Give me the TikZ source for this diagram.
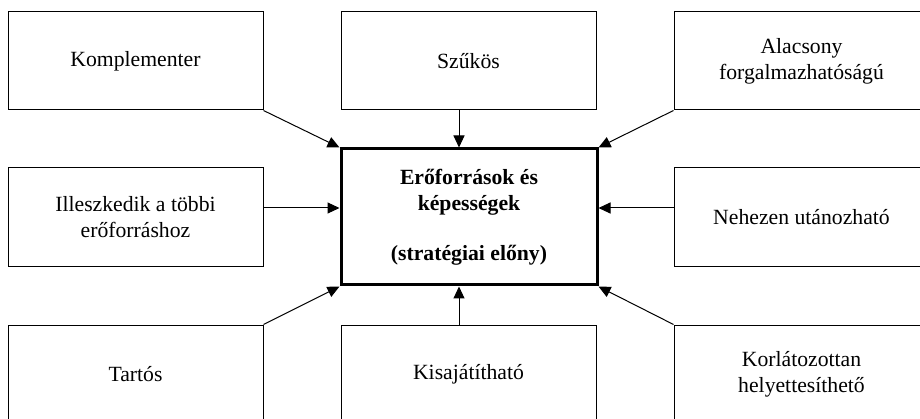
\documentclass[tikz,border=0pt]{standalone}
\usepackage{fontspec}
\setmainfont{Liberation Serif}
\usetikzlibrary{arrows.meta}
\begin{document}
\begin{tikzpicture}[x=1pt,y=-1pt,
  box/.style={draw=black,line width=1pt,minimum width=255pt,minimum height=98pt,
    align=center,inner sep=2pt,font=\fontsize{21.7}{26}\selectfont},
  mainbox/.style={draw=black,line width=3pt,minimum width=256pt,minimum height=136pt,
    align=center,font=\fontsize{21.7}{26}\selectfont\bfseries},
  arr/.style={line width=1pt,-{Triangle[length=12pt,width=11pt]}}]
\useasboundingbox (0,0) rectangle (920,419);
\clip (0,0) rectangle (920,419);
\node[box] (TL) at (135.5,61) {Komplementer};
\node[box] (TM) at (468.5,61) {Szűkös};
\node[box] (TR) at (801.5,61) {Alacsony\\forgalmazhatóságú};
\node[box,minimum height=99pt] (ML) at (135.5,217.5) {Illeszkedik a többi\\erőforráshoz};
\node[box,minimum height=99pt] (MR) at (801.5,217.5) {Nehezen utánozható};
\node[box] (BL) at (135.5,374) {Tartós};
\node[box] (BM) at (468.5,374) {Kisajátítható};
\node[box] (BR) at (801.5,374) {Korlátozottan\\helyettesíthető};
\node[mainbox] (C) at (469,217) {Erőforrások és\\képességek\\[24pt](stratégiai előny)};
\coordinate (ax) at (459,0);
\coordinate (ay) at (0,208);
\draw[arr] (TL.south east) -- (C.north west);
\draw[arr] (TM.south -| ax) -- (C.north -| ax);
\draw[arr] (TR.south west) -- (C.north east);
\draw[arr] (ML.east |- ay) -- (C.west |- ay);
\draw[arr] (MR.west |- ay) -- (C.east |- ay);
\draw[arr] (BL.north east) -- (C.south west);
\draw[arr] (BM.north -| ax) -- (C.south -| ax);
\draw[arr] (BR.north west) -- (C.south east);
\end{tikzpicture}
\end{document}
